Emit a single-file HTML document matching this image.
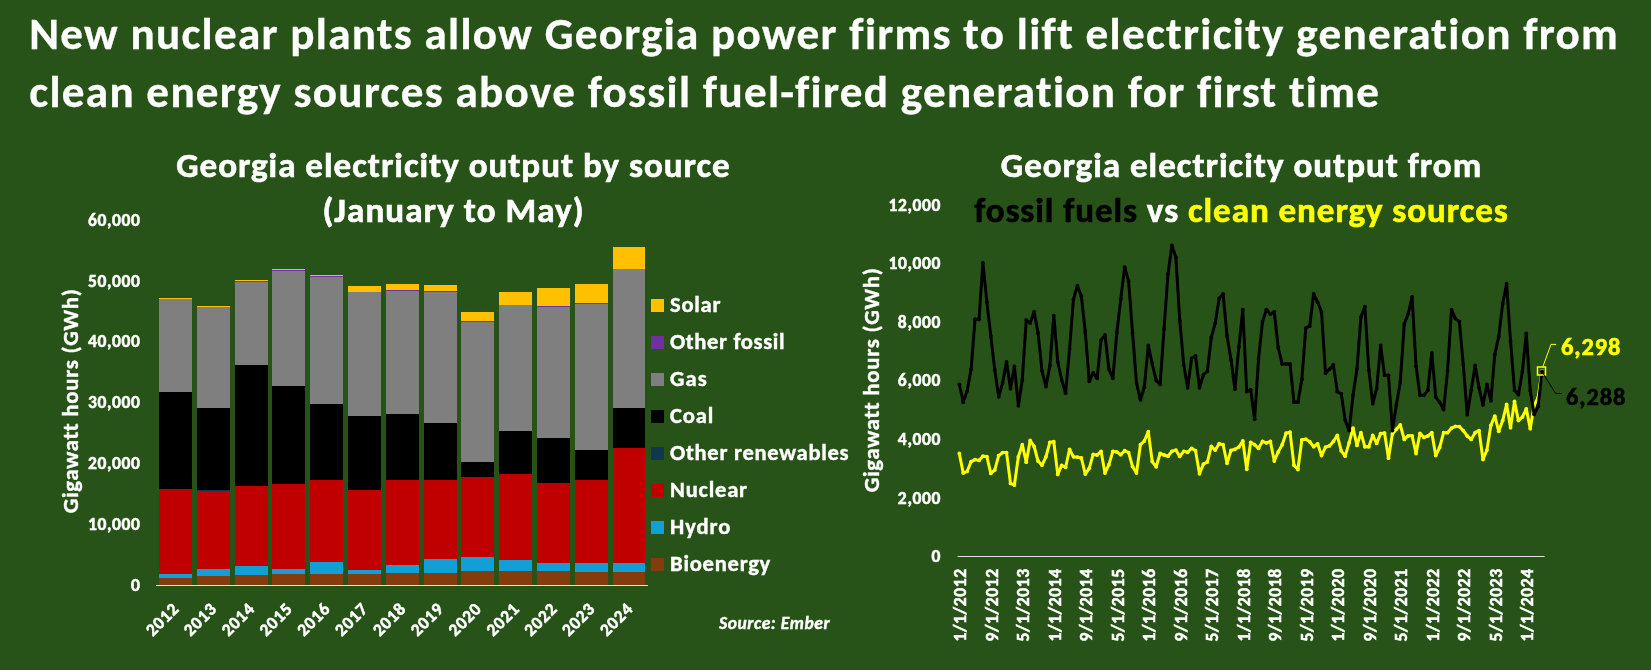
<!DOCTYPE html>
<html><head><meta charset="utf-8"><style>
html,body{margin:0;padding:0;background:#285318;}
body{width:1651px;height:670px;overflow:hidden;position:relative;}
svg{position:absolute;left:0;top:0;will-change:transform;}
text{font-family:Carlito, 'Liberation Sans', sans-serif;font-weight:bold;fill:#fff;font-variant-ligatures:none;font-feature-settings:"liga" 0,"clig" 0,"dlig" 0;}
.t14{font-size:17.55px;stroke:#fff;stroke-width:0.5px;paint-order:stroke;}
.t18{font-size:22.56px;stroke:#fff;stroke-width:0.4px;paint-order:stroke;}
.t28{font-size:35.09px;stroke:#fff;stroke-width:0.6px;paint-order:stroke;}
.t36{font-size:45.12px;stroke:#fff;stroke-width:0.3px;paint-order:stroke;}
.src{font-size:17.55px;font-style:italic;stroke:#fff;stroke-width:0.4px;paint-order:stroke;}
</style></head><body>
<svg width="1651" height="670" viewBox="0 0 1651 670">
<rect width="1651" height="670" fill="#285318"/>
<text textLength="1588.53" lengthAdjust="spacing" x="29.3" y="49" class="t36" style="letter-spacing:0.08px">New nuclear plants allow Georgia power firms to lift electricity generation from</text>
<text textLength="1349.73" lengthAdjust="spacing" x="29.3" y="107.2" class="t36" style="letter-spacing:0.12px">clean energy sources above fossil fuel-fired generation for first time</text>
<text textLength="553.39" lengthAdjust="spacing" x="453" y="177" text-anchor="middle" class="t28">Georgia electricity output by source</text>
<text textLength="261.23" lengthAdjust="spacing" x="453" y="222" text-anchor="middle" class="t28">(January to May)</text>
<text textLength="480.36" lengthAdjust="spacing" x="1241" y="177" text-anchor="middle" class="t28">Georgia electricity output from</text>
<text textLength="533.69" lengthAdjust="spacing" x="1241" y="222" text-anchor="middle" class="t28"><tspan fill="#000" stroke="#000">fossil fuels</tspan> vs <tspan fill="#FFFF00" stroke="#FFFF00">clean energy sources</tspan></text>
<text textLength="224.28" lengthAdjust="spacing" x="0" y="0" transform="translate(78.2 401.2) rotate(-90)" text-anchor="middle" class="t18" style="font-size:22.84px">Gigawatt hours (GWh)</text>
<text textLength="224.28" lengthAdjust="spacing" x="0" y="0" transform="translate(878.8 380.2) rotate(-90)" text-anchor="middle" class="t18" style="font-size:22.84px">Gigawatt hours (GWh)</text>
<text textLength="9.47" lengthAdjust="spacing" x="140" y="590.7" text-anchor="end" class="t14">0</text><text textLength="52.09" lengthAdjust="spacing" x="140" y="529.9" text-anchor="end" class="t14">10,000</text><text textLength="52.09" lengthAdjust="spacing" x="140" y="469.1" text-anchor="end" class="t14">20,000</text><text textLength="52.09" lengthAdjust="spacing" x="140" y="408.2" text-anchor="end" class="t14">30,000</text><text textLength="52.09" lengthAdjust="spacing" x="140" y="347.4" text-anchor="end" class="t14">40,000</text><text textLength="52.09" lengthAdjust="spacing" x="140" y="286.6" text-anchor="end" class="t14">50,000</text><text textLength="52.09" lengthAdjust="spacing" x="140" y="225.8" text-anchor="end" class="t14">60,000</text>
<rect x="159" y="578" width="33" height="7" fill="#843C0C" shape-rendering="crispEdges"/><rect x="159" y="574" width="33" height="4" fill="#129FD6" shape-rendering="crispEdges"/><rect x="159" y="489" width="33" height="85" fill="#C00000" shape-rendering="crispEdges"/><rect x="159" y="392" width="33" height="97" fill="#000000" shape-rendering="crispEdges"/><rect x="159" y="299" width="33" height="93" fill="#7F7F7F" shape-rendering="crispEdges"/><rect x="159" y="298" width="33" height="1" fill="#FFC000" shape-rendering="crispEdges"/><rect x="197" y="576" width="33" height="9" fill="#843C0C" shape-rendering="crispEdges"/><rect x="197" y="569" width="33" height="7" fill="#129FD6" shape-rendering="crispEdges"/><rect x="197" y="491" width="33" height="78" fill="#C00000" shape-rendering="crispEdges"/><rect x="197" y="490" width="33" height="1" fill="#0F3752" shape-rendering="crispEdges"/><rect x="197" y="408" width="33" height="82" fill="#000000" shape-rendering="crispEdges"/><rect x="197" y="307" width="33" height="101" fill="#7F7F7F" shape-rendering="crispEdges"/><rect x="197" y="306" width="33" height="1" fill="#FFC000" shape-rendering="crispEdges"/><rect x="235" y="575" width="33" height="10" fill="#843C0C" shape-rendering="crispEdges"/><rect x="235" y="566" width="33" height="9" fill="#129FD6" shape-rendering="crispEdges"/><rect x="235" y="486" width="33" height="80" fill="#C00000" shape-rendering="crispEdges"/><rect x="235" y="365" width="33" height="121" fill="#000000" shape-rendering="crispEdges"/><rect x="235" y="282" width="33" height="83" fill="#7F7F7F" shape-rendering="crispEdges"/><rect x="235" y="281" width="33" height="1" fill="#7030A0" shape-rendering="crispEdges"/><rect x="235" y="280" width="33" height="1" fill="#FFC000" shape-rendering="crispEdges"/><rect x="272" y="574" width="33" height="11" fill="#843C0C" shape-rendering="crispEdges"/><rect x="272" y="569" width="33" height="5" fill="#129FD6" shape-rendering="crispEdges"/><rect x="272" y="484" width="33" height="85" fill="#C00000" shape-rendering="crispEdges"/><rect x="272" y="386" width="33" height="98" fill="#000000" shape-rendering="crispEdges"/><rect x="272" y="271" width="33" height="115" fill="#7F7F7F" shape-rendering="crispEdges"/><rect x="272" y="270" width="33" height="1" fill="#7030A0" shape-rendering="crispEdges"/><rect x="272" y="269" width="33" height="1" fill="#FFC000" shape-rendering="crispEdges"/><rect x="310" y="574" width="33" height="11" fill="#843C0C" shape-rendering="crispEdges"/><rect x="310" y="562" width="33" height="12" fill="#129FD6" shape-rendering="crispEdges"/><rect x="310" y="480" width="33" height="82" fill="#C00000" shape-rendering="crispEdges"/><rect x="310" y="404" width="33" height="76" fill="#000000" shape-rendering="crispEdges"/><rect x="310" y="277" width="33" height="127" fill="#7F7F7F" shape-rendering="crispEdges"/><rect x="310" y="276" width="33" height="1" fill="#7030A0" shape-rendering="crispEdges"/><rect x="310" y="275" width="33" height="1" fill="#FFC000" shape-rendering="crispEdges"/><rect x="348" y="574" width="33" height="11" fill="#843C0C" shape-rendering="crispEdges"/><rect x="348" y="570" width="33" height="4" fill="#129FD6" shape-rendering="crispEdges"/><rect x="348" y="490" width="33" height="80" fill="#C00000" shape-rendering="crispEdges"/><rect x="348" y="416" width="33" height="74" fill="#000000" shape-rendering="crispEdges"/><rect x="348" y="292" width="33" height="124" fill="#7F7F7F" shape-rendering="crispEdges"/><rect x="348" y="286" width="33" height="6" fill="#FFC000" shape-rendering="crispEdges"/><rect x="386" y="573" width="33" height="12" fill="#843C0C" shape-rendering="crispEdges"/><rect x="386" y="565" width="33" height="8" fill="#129FD6" shape-rendering="crispEdges"/><rect x="386" y="480" width="33" height="85" fill="#C00000" shape-rendering="crispEdges"/><rect x="386" y="414" width="33" height="66" fill="#000000" shape-rendering="crispEdges"/><rect x="386" y="291" width="33" height="123" fill="#7F7F7F" shape-rendering="crispEdges"/><rect x="386" y="290" width="33" height="1" fill="#7030A0" shape-rendering="crispEdges"/><rect x="386" y="284" width="33" height="6" fill="#FFC000" shape-rendering="crispEdges"/><rect x="424" y="573" width="33" height="12" fill="#843C0C" shape-rendering="crispEdges"/><rect x="424" y="559" width="33" height="14" fill="#129FD6" shape-rendering="crispEdges"/><rect x="424" y="480" width="33" height="79" fill="#C00000" shape-rendering="crispEdges"/><rect x="424" y="423" width="33" height="57" fill="#000000" shape-rendering="crispEdges"/><rect x="424" y="292" width="33" height="131" fill="#7F7F7F" shape-rendering="crispEdges"/><rect x="424" y="291" width="33" height="1" fill="#7030A0" shape-rendering="crispEdges"/><rect x="424" y="285" width="33" height="6" fill="#FFC000" shape-rendering="crispEdges"/><rect x="461" y="571" width="33" height="14" fill="#843C0C" shape-rendering="crispEdges"/><rect x="461" y="557" width="33" height="14" fill="#129FD6" shape-rendering="crispEdges"/><rect x="461" y="477" width="33" height="80" fill="#C00000" shape-rendering="crispEdges"/><rect x="461" y="462" width="33" height="15" fill="#000000" shape-rendering="crispEdges"/><rect x="461" y="322" width="33" height="140" fill="#7F7F7F" shape-rendering="crispEdges"/><rect x="461" y="321" width="33" height="1" fill="#7030A0" shape-rendering="crispEdges"/><rect x="461" y="312" width="33" height="9" fill="#FFC000" shape-rendering="crispEdges"/><rect x="499" y="571" width="33" height="14" fill="#843C0C" shape-rendering="crispEdges"/><rect x="499" y="560" width="33" height="11" fill="#129FD6" shape-rendering="crispEdges"/><rect x="499" y="474" width="33" height="86" fill="#C00000" shape-rendering="crispEdges"/><rect x="499" y="431" width="33" height="43" fill="#000000" shape-rendering="crispEdges"/><rect x="499" y="305" width="33" height="126" fill="#7F7F7F" shape-rendering="crispEdges"/><rect x="499" y="292" width="33" height="13" fill="#FFC000" shape-rendering="crispEdges"/><rect x="537" y="571" width="33" height="14" fill="#843C0C" shape-rendering="crispEdges"/><rect x="537" y="563" width="33" height="8" fill="#129FD6" shape-rendering="crispEdges"/><rect x="537" y="483" width="33" height="80" fill="#C00000" shape-rendering="crispEdges"/><rect x="537" y="438" width="33" height="45" fill="#000000" shape-rendering="crispEdges"/><rect x="537" y="307" width="33" height="131" fill="#7F7F7F" shape-rendering="crispEdges"/><rect x="537" y="306" width="33" height="1" fill="#7030A0" shape-rendering="crispEdges"/><rect x="537" y="288" width="33" height="18" fill="#FFC000" shape-rendering="crispEdges"/><rect x="575" y="572" width="33" height="13" fill="#843C0C" shape-rendering="crispEdges"/><rect x="575" y="563" width="33" height="9" fill="#129FD6" shape-rendering="crispEdges"/><rect x="575" y="480" width="33" height="83" fill="#C00000" shape-rendering="crispEdges"/><rect x="575" y="450" width="33" height="30" fill="#000000" shape-rendering="crispEdges"/><rect x="575" y="304" width="33" height="146" fill="#7F7F7F" shape-rendering="crispEdges"/><rect x="575" y="303" width="33" height="1" fill="#7030A0" shape-rendering="crispEdges"/><rect x="575" y="284" width="33" height="19" fill="#FFC000" shape-rendering="crispEdges"/><rect x="613" y="572" width="32" height="13" fill="#843C0C" shape-rendering="crispEdges"/><rect x="613" y="563" width="32" height="9" fill="#129FD6" shape-rendering="crispEdges"/><rect x="613" y="448" width="32" height="115" fill="#C00000" shape-rendering="crispEdges"/><rect x="613" y="408" width="32" height="40" fill="#000000" shape-rendering="crispEdges"/><rect x="613" y="269" width="32" height="139" fill="#7F7F7F" shape-rendering="crispEdges"/><rect x="613" y="247" width="32" height="22" fill="#FFC000" shape-rendering="crispEdges"/>
<rect x="156" y="585" width="492" height="1" fill="#E0E0E0"/>
<text textLength="37.83" lengthAdjust="spacing" x="179.5" y="610.3" transform="rotate(-45 179.5 610.3)" text-anchor="end" class="t14">2012</text><text textLength="37.83" lengthAdjust="spacing" x="217.3" y="610.3" transform="rotate(-45 217.3 610.3)" text-anchor="end" class="t14">2013</text><text textLength="37.83" lengthAdjust="spacing" x="255.2" y="610.3" transform="rotate(-45 255.2 610.3)" text-anchor="end" class="t14">2014</text><text textLength="37.83" lengthAdjust="spacing" x="293.0" y="610.3" transform="rotate(-45 293.0 610.3)" text-anchor="end" class="t14">2015</text><text textLength="37.83" lengthAdjust="spacing" x="330.8" y="610.3" transform="rotate(-45 330.8 610.3)" text-anchor="end" class="t14">2016</text><text textLength="37.83" lengthAdjust="spacing" x="368.6" y="610.3" transform="rotate(-45 368.6 610.3)" text-anchor="end" class="t14">2017</text><text textLength="37.83" lengthAdjust="spacing" x="406.5" y="610.3" transform="rotate(-45 406.5 610.3)" text-anchor="end" class="t14">2018</text><text textLength="37.83" lengthAdjust="spacing" x="444.3" y="610.3" transform="rotate(-45 444.3 610.3)" text-anchor="end" class="t14">2019</text><text textLength="37.83" lengthAdjust="spacing" x="482.1" y="610.3" transform="rotate(-45 482.1 610.3)" text-anchor="end" class="t14">2020</text><text textLength="37.83" lengthAdjust="spacing" x="520.0" y="610.3" transform="rotate(-45 520.0 610.3)" text-anchor="end" class="t14">2021</text><text textLength="37.83" lengthAdjust="spacing" x="557.8" y="610.3" transform="rotate(-45 557.8 610.3)" text-anchor="end" class="t14">2022</text><text textLength="37.83" lengthAdjust="spacing" x="595.6" y="610.3" transform="rotate(-45 595.6 610.3)" text-anchor="end" class="t14">2023</text><text textLength="37.83" lengthAdjust="spacing" x="633.5" y="610.3" transform="rotate(-45 633.5 610.3)" text-anchor="end" class="t14">2024</text>
<rect x="651" y="299" width="13" height="13" fill="#FFC000"/><text textLength="50.53" lengthAdjust="spacing" x="670" y="312" class="t18">Solar</text><rect x="651" y="336" width="13" height="13" fill="#7030A0"/><text textLength="114.55" lengthAdjust="spacing" x="670" y="349" class="t18">Other fossil</text><rect x="651" y="373" width="13" height="13" fill="#7F7F7F"/><text textLength="36.72" lengthAdjust="spacing" x="670" y="386" class="t18">Gas</text><rect x="651" y="410" width="13" height="13" fill="#000000"/><text textLength="43.36" lengthAdjust="spacing" x="670" y="423" class="t18">Coal</text><rect x="651" y="447" width="13" height="13" fill="#0F3752"/><text textLength="178.56" lengthAdjust="spacing" x="670" y="460" class="t18">Other renewables</text><rect x="651" y="484" width="13" height="13" fill="#C00000"/><text textLength="77.09" lengthAdjust="spacing" x="670" y="497" class="t18">Nuclear</text><rect x="651" y="521" width="13" height="13" fill="#129FD6"/><text textLength="60.27" lengthAdjust="spacing" x="670" y="534" class="t18">Hydro</text><rect x="651" y="558" width="13" height="13" fill="#843C0C"/><text textLength="100.30" lengthAdjust="spacing" x="670" y="571" class="t18">Bioenergy</text>
<text textLength="110.59" lengthAdjust="spacing" x="719" y="629" class="src">Source: Ember</text>
<text textLength="9.47" lengthAdjust="spacing" x="940.5" y="562.0" text-anchor="end" class="t14">0</text><text textLength="42.64" lengthAdjust="spacing" x="940.5" y="503.5" text-anchor="end" class="t14">2,000</text><text textLength="42.64" lengthAdjust="spacing" x="940.5" y="444.9" text-anchor="end" class="t14">4,000</text><text textLength="42.64" lengthAdjust="spacing" x="940.5" y="386.4" text-anchor="end" class="t14">6,000</text><text textLength="42.64" lengthAdjust="spacing" x="940.5" y="327.9" text-anchor="end" class="t14">8,000</text><text textLength="52.09" lengthAdjust="spacing" x="940.5" y="269.4" text-anchor="end" class="t14">10,000</text><text textLength="52.09" lengthAdjust="spacing" x="940.5" y="210.8" text-anchor="end" class="t14">12,000</text>
<rect x="957.6" y="556" width="587" height="1" fill="#E0E0E0"/>
<text textLength="72.78" lengthAdjust="spacing" x="966.5" y="568.8" transform="rotate(-90 966.5 568.8)" text-anchor="end" class="t14">1/1/2012</text><text textLength="72.78" lengthAdjust="spacing" x="998.0" y="568.8" transform="rotate(-90 998.0 568.8)" text-anchor="end" class="t14">9/1/2012</text><text textLength="72.78" lengthAdjust="spacing" x="1029.5" y="568.8" transform="rotate(-90 1029.5 568.8)" text-anchor="end" class="t14">5/1/2013</text><text textLength="72.78" lengthAdjust="spacing" x="1061.0" y="568.8" transform="rotate(-90 1061.0 568.8)" text-anchor="end" class="t14">1/1/2014</text><text textLength="72.78" lengthAdjust="spacing" x="1092.5" y="568.8" transform="rotate(-90 1092.5 568.8)" text-anchor="end" class="t14">9/1/2014</text><text textLength="72.78" lengthAdjust="spacing" x="1124.0" y="568.8" transform="rotate(-90 1124.0 568.8)" text-anchor="end" class="t14">5/1/2015</text><text textLength="72.78" lengthAdjust="spacing" x="1155.5" y="568.8" transform="rotate(-90 1155.5 568.8)" text-anchor="end" class="t14">1/1/2016</text><text textLength="72.78" lengthAdjust="spacing" x="1187.0" y="568.8" transform="rotate(-90 1187.0 568.8)" text-anchor="end" class="t14">9/1/2016</text><text textLength="72.78" lengthAdjust="spacing" x="1218.5" y="568.8" transform="rotate(-90 1218.5 568.8)" text-anchor="end" class="t14">5/1/2017</text><text textLength="72.78" lengthAdjust="spacing" x="1250.0" y="568.8" transform="rotate(-90 1250.0 568.8)" text-anchor="end" class="t14">1/1/2018</text><text textLength="72.78" lengthAdjust="spacing" x="1281.5" y="568.8" transform="rotate(-90 1281.5 568.8)" text-anchor="end" class="t14">9/1/2018</text><text textLength="72.78" lengthAdjust="spacing" x="1313.0" y="568.8" transform="rotate(-90 1313.0 568.8)" text-anchor="end" class="t14">5/1/2019</text><text textLength="72.78" lengthAdjust="spacing" x="1344.5" y="568.8" transform="rotate(-90 1344.5 568.8)" text-anchor="end" class="t14">1/1/2020</text><text textLength="72.78" lengthAdjust="spacing" x="1376.0" y="568.8" transform="rotate(-90 1376.0 568.8)" text-anchor="end" class="t14">9/1/2020</text><text textLength="72.78" lengthAdjust="spacing" x="1407.5" y="568.8" transform="rotate(-90 1407.5 568.8)" text-anchor="end" class="t14">5/1/2021</text><text textLength="72.78" lengthAdjust="spacing" x="1439.0" y="568.8" transform="rotate(-90 1439.0 568.8)" text-anchor="end" class="t14">1/1/2022</text><text textLength="72.78" lengthAdjust="spacing" x="1470.5" y="568.8" transform="rotate(-90 1470.5 568.8)" text-anchor="end" class="t14">9/1/2022</text><text textLength="72.78" lengthAdjust="spacing" x="1502.0" y="568.8" transform="rotate(-90 1502.0 568.8)" text-anchor="end" class="t14">5/1/2023</text><text textLength="72.78" lengthAdjust="spacing" x="1533.5" y="568.8" transform="rotate(-90 1533.5 568.8)" text-anchor="end" class="t14">1/1/2024</text>
<polyline points="959.30,453.5 963.24,473.1 967.17,471.3 971.11,461.6 975.05,459.6 978.99,460.4 982.92,456.2 986.86,456.6 990.80,473.4 994.74,470.1 998.67,455.6 1002.61,452.6 1006.55,452.6 1010.49,483.4 1014.42,485.0 1018.36,456.8 1022.30,444.7 1026.24,462.2 1030.17,440.4 1034.11,446.5 1038.05,461.0 1041.99,465.3 1045.92,456.8 1049.86,442.3 1053.80,441.7 1057.74,474.4 1061.67,465.3 1065.61,467.3 1069.55,449.5 1073.49,456.8 1077.42,457.2 1081.36,458.0 1085.30,474.1 1089.24,468.3 1093.17,454.4 1097.11,455.0 1101.05,451.3 1104.99,473.1 1108.92,464.7 1112.86,451.3 1116.80,451.9 1120.74,454.7 1124.67,450.7 1128.61,452.6 1132.55,466.5 1136.49,473.1 1140.42,444.7 1144.36,441.0 1148.30,431.7 1152.24,461.6 1156.17,466.8 1160.11,453.5 1164.05,455.0 1167.99,456.2 1171.92,451.3 1175.86,450.1 1179.80,456.4 1183.74,451.3 1187.67,452.3 1191.61,448.3 1195.55,450.7 1199.49,473.8 1203.42,464.1 1207.36,462.0 1211.30,446.3 1215.24,450.1 1219.17,443.7 1223.11,444.7 1227.05,463.2 1230.99,450.5 1234.92,449.3 1238.86,447.1 1242.80,441.0 1246.74,469.3 1250.67,442.3 1254.61,444.7 1258.55,448.3 1262.49,441.4 1266.42,442.9 1270.36,441.4 1274.30,461.0 1278.24,451.9 1282.17,444.7 1286.11,433.2 1290.05,432.2 1293.99,465.3 1297.92,469.5 1301.86,439.8 1305.80,439.2 1309.74,441.7 1313.67,446.7 1317.61,443.8 1321.55,455.6 1325.49,447.1 1329.42,445.9 1333.36,441.4 1337.30,435.4 1341.24,450.8 1345.17,456.2 1349.11,442.8 1353.05,428.2 1356.99,445.4 1360.92,432.7 1364.86,446.8 1368.80,446.8 1372.74,435.4 1376.67,443.4 1380.61,433.6 1384.55,433.1 1388.49,458.2 1392.42,434.0 1396.36,429.3 1400.30,425.0 1404.24,439.4 1408.17,435.8 1412.11,435.8 1416.05,453.5 1419.99,433.4 1423.92,437.4 1427.86,436.0 1431.80,432.7 1435.74,455.5 1439.67,447.5 1443.61,432.7 1447.55,432.7 1451.49,428.2 1455.42,426.4 1459.36,426.6 1463.30,430.7 1467.24,436.0 1471.17,439.4 1475.11,432.7 1479.05,430.7 1482.99,459.5 1486.92,450.1 1490.86,425.3 1494.80,416.2 1498.74,431.3 1502.67,420.6 1506.61,404.5 1510.55,427.7 1514.49,401.4 1518.42,420.6 1522.36,417.2 1526.30,408.9 1530.24,428.7 1534.17,405.1 1538.11,397.7 1542.05,371.0" fill="none" stroke="#FFFF00" stroke-width="3" stroke-linejoin="round"/>
<circle cx="959.30" cy="453.5" r="1.9" fill="#FFFF00"/><circle cx="963.24" cy="473.1" r="1.9" fill="#FFFF00"/><circle cx="967.17" cy="471.3" r="1.9" fill="#FFFF00"/><circle cx="971.11" cy="461.6" r="1.9" fill="#FFFF00"/><circle cx="975.05" cy="459.6" r="1.9" fill="#FFFF00"/><circle cx="978.99" cy="460.4" r="1.9" fill="#FFFF00"/><circle cx="982.92" cy="456.2" r="1.9" fill="#FFFF00"/><circle cx="986.86" cy="456.6" r="1.9" fill="#FFFF00"/><circle cx="990.80" cy="473.4" r="1.9" fill="#FFFF00"/><circle cx="994.74" cy="470.1" r="1.9" fill="#FFFF00"/><circle cx="998.67" cy="455.6" r="1.9" fill="#FFFF00"/><circle cx="1002.61" cy="452.6" r="1.9" fill="#FFFF00"/><circle cx="1006.55" cy="452.6" r="1.9" fill="#FFFF00"/><circle cx="1010.49" cy="483.4" r="1.9" fill="#FFFF00"/><circle cx="1014.42" cy="485.0" r="1.9" fill="#FFFF00"/><circle cx="1018.36" cy="456.8" r="1.9" fill="#FFFF00"/><circle cx="1022.30" cy="444.7" r="1.9" fill="#FFFF00"/><circle cx="1026.24" cy="462.2" r="1.9" fill="#FFFF00"/><circle cx="1030.17" cy="440.4" r="1.9" fill="#FFFF00"/><circle cx="1034.11" cy="446.5" r="1.9" fill="#FFFF00"/><circle cx="1038.05" cy="461.0" r="1.9" fill="#FFFF00"/><circle cx="1041.99" cy="465.3" r="1.9" fill="#FFFF00"/><circle cx="1045.92" cy="456.8" r="1.9" fill="#FFFF00"/><circle cx="1049.86" cy="442.3" r="1.9" fill="#FFFF00"/><circle cx="1053.80" cy="441.7" r="1.9" fill="#FFFF00"/><circle cx="1057.74" cy="474.4" r="1.9" fill="#FFFF00"/><circle cx="1061.67" cy="465.3" r="1.9" fill="#FFFF00"/><circle cx="1065.61" cy="467.3" r="1.9" fill="#FFFF00"/><circle cx="1069.55" cy="449.5" r="1.9" fill="#FFFF00"/><circle cx="1073.49" cy="456.8" r="1.9" fill="#FFFF00"/><circle cx="1077.42" cy="457.2" r="1.9" fill="#FFFF00"/><circle cx="1081.36" cy="458.0" r="1.9" fill="#FFFF00"/><circle cx="1085.30" cy="474.1" r="1.9" fill="#FFFF00"/><circle cx="1089.24" cy="468.3" r="1.9" fill="#FFFF00"/><circle cx="1093.17" cy="454.4" r="1.9" fill="#FFFF00"/><circle cx="1097.11" cy="455.0" r="1.9" fill="#FFFF00"/><circle cx="1101.05" cy="451.3" r="1.9" fill="#FFFF00"/><circle cx="1104.99" cy="473.1" r="1.9" fill="#FFFF00"/><circle cx="1108.92" cy="464.7" r="1.9" fill="#FFFF00"/><circle cx="1112.86" cy="451.3" r="1.9" fill="#FFFF00"/><circle cx="1116.80" cy="451.9" r="1.9" fill="#FFFF00"/><circle cx="1120.74" cy="454.7" r="1.9" fill="#FFFF00"/><circle cx="1124.67" cy="450.7" r="1.9" fill="#FFFF00"/><circle cx="1128.61" cy="452.6" r="1.9" fill="#FFFF00"/><circle cx="1132.55" cy="466.5" r="1.9" fill="#FFFF00"/><circle cx="1136.49" cy="473.1" r="1.9" fill="#FFFF00"/><circle cx="1140.42" cy="444.7" r="1.9" fill="#FFFF00"/><circle cx="1144.36" cy="441.0" r="1.9" fill="#FFFF00"/><circle cx="1148.30" cy="431.7" r="1.9" fill="#FFFF00"/><circle cx="1152.24" cy="461.6" r="1.9" fill="#FFFF00"/><circle cx="1156.17" cy="466.8" r="1.9" fill="#FFFF00"/><circle cx="1160.11" cy="453.5" r="1.9" fill="#FFFF00"/><circle cx="1164.05" cy="455.0" r="1.9" fill="#FFFF00"/><circle cx="1167.99" cy="456.2" r="1.9" fill="#FFFF00"/><circle cx="1171.92" cy="451.3" r="1.9" fill="#FFFF00"/><circle cx="1175.86" cy="450.1" r="1.9" fill="#FFFF00"/><circle cx="1179.80" cy="456.4" r="1.9" fill="#FFFF00"/><circle cx="1183.74" cy="451.3" r="1.9" fill="#FFFF00"/><circle cx="1187.67" cy="452.3" r="1.9" fill="#FFFF00"/><circle cx="1191.61" cy="448.3" r="1.9" fill="#FFFF00"/><circle cx="1195.55" cy="450.7" r="1.9" fill="#FFFF00"/><circle cx="1199.49" cy="473.8" r="1.9" fill="#FFFF00"/><circle cx="1203.42" cy="464.1" r="1.9" fill="#FFFF00"/><circle cx="1207.36" cy="462.0" r="1.9" fill="#FFFF00"/><circle cx="1211.30" cy="446.3" r="1.9" fill="#FFFF00"/><circle cx="1215.24" cy="450.1" r="1.9" fill="#FFFF00"/><circle cx="1219.17" cy="443.7" r="1.9" fill="#FFFF00"/><circle cx="1223.11" cy="444.7" r="1.9" fill="#FFFF00"/><circle cx="1227.05" cy="463.2" r="1.9" fill="#FFFF00"/><circle cx="1230.99" cy="450.5" r="1.9" fill="#FFFF00"/><circle cx="1234.92" cy="449.3" r="1.9" fill="#FFFF00"/><circle cx="1238.86" cy="447.1" r="1.9" fill="#FFFF00"/><circle cx="1242.80" cy="441.0" r="1.9" fill="#FFFF00"/><circle cx="1246.74" cy="469.3" r="1.9" fill="#FFFF00"/><circle cx="1250.67" cy="442.3" r="1.9" fill="#FFFF00"/><circle cx="1254.61" cy="444.7" r="1.9" fill="#FFFF00"/><circle cx="1258.55" cy="448.3" r="1.9" fill="#FFFF00"/><circle cx="1262.49" cy="441.4" r="1.9" fill="#FFFF00"/><circle cx="1266.42" cy="442.9" r="1.9" fill="#FFFF00"/><circle cx="1270.36" cy="441.4" r="1.9" fill="#FFFF00"/><circle cx="1274.30" cy="461.0" r="1.9" fill="#FFFF00"/><circle cx="1278.24" cy="451.9" r="1.9" fill="#FFFF00"/><circle cx="1282.17" cy="444.7" r="1.9" fill="#FFFF00"/><circle cx="1286.11" cy="433.2" r="1.9" fill="#FFFF00"/><circle cx="1290.05" cy="432.2" r="1.9" fill="#FFFF00"/><circle cx="1293.99" cy="465.3" r="1.9" fill="#FFFF00"/><circle cx="1297.92" cy="469.5" r="1.9" fill="#FFFF00"/><circle cx="1301.86" cy="439.8" r="1.9" fill="#FFFF00"/><circle cx="1305.80" cy="439.2" r="1.9" fill="#FFFF00"/><circle cx="1309.74" cy="441.7" r="1.9" fill="#FFFF00"/><circle cx="1313.67" cy="446.7" r="1.9" fill="#FFFF00"/><circle cx="1317.61" cy="443.8" r="1.9" fill="#FFFF00"/><circle cx="1321.55" cy="455.6" r="1.9" fill="#FFFF00"/><circle cx="1325.49" cy="447.1" r="1.9" fill="#FFFF00"/><circle cx="1329.42" cy="445.9" r="1.9" fill="#FFFF00"/><circle cx="1333.36" cy="441.4" r="1.9" fill="#FFFF00"/><circle cx="1337.30" cy="435.4" r="1.9" fill="#FFFF00"/><circle cx="1341.24" cy="450.8" r="1.9" fill="#FFFF00"/><circle cx="1345.17" cy="456.2" r="1.9" fill="#FFFF00"/><circle cx="1349.11" cy="442.8" r="1.9" fill="#FFFF00"/><circle cx="1353.05" cy="428.2" r="1.9" fill="#FFFF00"/><circle cx="1356.99" cy="445.4" r="1.9" fill="#FFFF00"/><circle cx="1360.92" cy="432.7" r="1.9" fill="#FFFF00"/><circle cx="1364.86" cy="446.8" r="1.9" fill="#FFFF00"/><circle cx="1368.80" cy="446.8" r="1.9" fill="#FFFF00"/><circle cx="1372.74" cy="435.4" r="1.9" fill="#FFFF00"/><circle cx="1376.67" cy="443.4" r="1.9" fill="#FFFF00"/><circle cx="1380.61" cy="433.6" r="1.9" fill="#FFFF00"/><circle cx="1384.55" cy="433.1" r="1.9" fill="#FFFF00"/><circle cx="1388.49" cy="458.2" r="1.9" fill="#FFFF00"/><circle cx="1392.42" cy="434.0" r="1.9" fill="#FFFF00"/><circle cx="1396.36" cy="429.3" r="1.9" fill="#FFFF00"/><circle cx="1400.30" cy="425.0" r="1.9" fill="#FFFF00"/><circle cx="1404.24" cy="439.4" r="1.9" fill="#FFFF00"/><circle cx="1408.17" cy="435.8" r="1.9" fill="#FFFF00"/><circle cx="1412.11" cy="435.8" r="1.9" fill="#FFFF00"/><circle cx="1416.05" cy="453.5" r="1.9" fill="#FFFF00"/><circle cx="1419.99" cy="433.4" r="1.9" fill="#FFFF00"/><circle cx="1423.92" cy="437.4" r="1.9" fill="#FFFF00"/><circle cx="1427.86" cy="436.0" r="1.9" fill="#FFFF00"/><circle cx="1431.80" cy="432.7" r="1.9" fill="#FFFF00"/><circle cx="1435.74" cy="455.5" r="1.9" fill="#FFFF00"/><circle cx="1439.67" cy="447.5" r="1.9" fill="#FFFF00"/><circle cx="1443.61" cy="432.7" r="1.9" fill="#FFFF00"/><circle cx="1447.55" cy="432.7" r="1.9" fill="#FFFF00"/><circle cx="1451.49" cy="428.2" r="1.9" fill="#FFFF00"/><circle cx="1455.42" cy="426.4" r="1.9" fill="#FFFF00"/><circle cx="1459.36" cy="426.6" r="1.9" fill="#FFFF00"/><circle cx="1463.30" cy="430.7" r="1.9" fill="#FFFF00"/><circle cx="1467.24" cy="436.0" r="1.9" fill="#FFFF00"/><circle cx="1471.17" cy="439.4" r="1.9" fill="#FFFF00"/><circle cx="1475.11" cy="432.7" r="1.9" fill="#FFFF00"/><circle cx="1479.05" cy="430.7" r="1.9" fill="#FFFF00"/><circle cx="1482.99" cy="459.5" r="1.9" fill="#FFFF00"/><circle cx="1486.92" cy="450.1" r="1.9" fill="#FFFF00"/><circle cx="1490.86" cy="425.3" r="1.9" fill="#FFFF00"/><circle cx="1494.80" cy="416.2" r="1.9" fill="#FFFF00"/><circle cx="1498.74" cy="431.3" r="1.9" fill="#FFFF00"/><circle cx="1502.67" cy="420.6" r="1.9" fill="#FFFF00"/><circle cx="1506.61" cy="404.5" r="1.9" fill="#FFFF00"/><circle cx="1510.55" cy="427.7" r="1.9" fill="#FFFF00"/><circle cx="1514.49" cy="401.4" r="1.9" fill="#FFFF00"/><circle cx="1518.42" cy="420.6" r="1.9" fill="#FFFF00"/><circle cx="1522.36" cy="417.2" r="1.9" fill="#FFFF00"/><circle cx="1526.30" cy="408.9" r="1.9" fill="#FFFF00"/><circle cx="1530.24" cy="428.7" r="1.9" fill="#FFFF00"/><circle cx="1534.17" cy="405.1" r="1.9" fill="#FFFF00"/><circle cx="1538.11" cy="397.7" r="1.9" fill="#FFFF00"/><circle cx="1542.05" cy="371.0" r="1.9" fill="#FFFF00"/>
<polyline points="959.30,384.3 963.24,402.2 967.17,390.8 971.11,369.3 975.05,319.2 978.99,319.5 982.92,262.8 986.86,302.2 990.80,335.9 994.74,369.9 998.67,396.8 1002.61,382.8 1006.55,361.9 1010.49,388.7 1014.42,366.3 1018.36,405.7 1022.30,379.8 1026.24,320.1 1030.17,323.1 1034.11,312.0 1038.05,332.9 1041.99,370.8 1045.92,386.6 1049.86,365.7 1053.80,315.6 1057.74,361.9 1061.67,379.8 1065.61,393.2 1069.55,349.0 1073.49,299.2 1077.42,285.7 1081.36,296.2 1085.30,332.0 1089.24,381.3 1093.17,372.9 1097.11,378.3 1101.05,340.1 1104.99,335.0 1108.92,369.3 1112.86,378.3 1116.80,332.9 1120.74,299.2 1124.67,267.2 1128.61,281.3 1132.55,332.9 1136.49,382.8 1140.42,399.8 1144.36,387.2 1148.30,345.4 1152.24,364.0 1156.17,380.4 1160.11,384.3 1164.05,329.0 1167.99,273.8 1171.92,245.4 1175.86,257.4 1179.80,321.0 1183.74,364.9 1187.67,387.8 1191.61,358.3 1195.55,355.9 1199.49,387.8 1203.42,374.7 1207.36,371.4 1211.30,337.4 1215.24,323.1 1219.17,298.3 1223.11,293.8 1227.05,335.9 1230.99,359.8 1234.92,389.3 1238.86,346.9 1242.80,309.6 1246.74,391.7 1250.67,389.6 1254.61,419.2 1258.55,358.9 1262.49,321.6 1266.42,309.6 1270.36,314.1 1274.30,312.0 1278.24,347.8 1282.17,364.0 1286.11,364.0 1290.05,364.0 1293.99,402.2 1297.92,402.2 1301.86,379.2 1305.80,328.1 1309.74,326.0 1313.67,293.8 1317.61,302.2 1321.55,312.0 1325.49,373.2 1329.42,369.3 1333.36,364.9 1337.30,391.7 1341.24,393.8 1345.17,420.1 1349.11,430.5 1353.05,395.3 1356.99,368.7 1360.92,317.1 1364.86,306.6 1368.80,369.9 1372.74,403.7 1376.67,388.7 1380.61,345.4 1384.55,375.3 1388.49,375.3 1392.42,430.5 1396.36,405.1 1400.30,381.9 1404.24,324.0 1408.17,314.1 1412.11,296.8 1416.05,366.3 1419.99,395.3 1423.92,395.3 1427.86,390.2 1431.80,352.9 1435.74,397.1 1439.67,402.2 1443.61,409.6 1447.55,370.8 1451.49,309.6 1455.42,318.6 1459.36,321.6 1463.30,364.9 1467.24,414.7 1471.17,390.2 1475.11,365.4 1479.05,387.8 1482.99,405.1 1486.92,384.3 1490.86,400.7 1494.80,354.4 1498.74,336.5 1502.67,303.7 1506.61,283.7 1510.55,341.0 1514.49,390.2 1518.42,394.7 1522.36,371.7 1526.30,333.5 1530.24,390.4 1534.17,414.4 1538.11,406.5 1542.05,371.3" fill="none" stroke="#000" stroke-width="3" stroke-linejoin="round"/>
<circle cx="959.30" cy="384.3" r="1.9" fill="#000"/><circle cx="963.24" cy="402.2" r="1.9" fill="#000"/><circle cx="967.17" cy="390.8" r="1.9" fill="#000"/><circle cx="971.11" cy="369.3" r="1.9" fill="#000"/><circle cx="975.05" cy="319.2" r="1.9" fill="#000"/><circle cx="978.99" cy="319.5" r="1.9" fill="#000"/><circle cx="982.92" cy="262.8" r="1.9" fill="#000"/><circle cx="986.86" cy="302.2" r="1.9" fill="#000"/><circle cx="990.80" cy="335.9" r="1.9" fill="#000"/><circle cx="994.74" cy="369.9" r="1.9" fill="#000"/><circle cx="998.67" cy="396.8" r="1.9" fill="#000"/><circle cx="1002.61" cy="382.8" r="1.9" fill="#000"/><circle cx="1006.55" cy="361.9" r="1.9" fill="#000"/><circle cx="1010.49" cy="388.7" r="1.9" fill="#000"/><circle cx="1014.42" cy="366.3" r="1.9" fill="#000"/><circle cx="1018.36" cy="405.7" r="1.9" fill="#000"/><circle cx="1022.30" cy="379.8" r="1.9" fill="#000"/><circle cx="1026.24" cy="320.1" r="1.9" fill="#000"/><circle cx="1030.17" cy="323.1" r="1.9" fill="#000"/><circle cx="1034.11" cy="312.0" r="1.9" fill="#000"/><circle cx="1038.05" cy="332.9" r="1.9" fill="#000"/><circle cx="1041.99" cy="370.8" r="1.9" fill="#000"/><circle cx="1045.92" cy="386.6" r="1.9" fill="#000"/><circle cx="1049.86" cy="365.7" r="1.9" fill="#000"/><circle cx="1053.80" cy="315.6" r="1.9" fill="#000"/><circle cx="1057.74" cy="361.9" r="1.9" fill="#000"/><circle cx="1061.67" cy="379.8" r="1.9" fill="#000"/><circle cx="1065.61" cy="393.2" r="1.9" fill="#000"/><circle cx="1069.55" cy="349.0" r="1.9" fill="#000"/><circle cx="1073.49" cy="299.2" r="1.9" fill="#000"/><circle cx="1077.42" cy="285.7" r="1.9" fill="#000"/><circle cx="1081.36" cy="296.2" r="1.9" fill="#000"/><circle cx="1085.30" cy="332.0" r="1.9" fill="#000"/><circle cx="1089.24" cy="381.3" r="1.9" fill="#000"/><circle cx="1093.17" cy="372.9" r="1.9" fill="#000"/><circle cx="1097.11" cy="378.3" r="1.9" fill="#000"/><circle cx="1101.05" cy="340.1" r="1.9" fill="#000"/><circle cx="1104.99" cy="335.0" r="1.9" fill="#000"/><circle cx="1108.92" cy="369.3" r="1.9" fill="#000"/><circle cx="1112.86" cy="378.3" r="1.9" fill="#000"/><circle cx="1116.80" cy="332.9" r="1.9" fill="#000"/><circle cx="1120.74" cy="299.2" r="1.9" fill="#000"/><circle cx="1124.67" cy="267.2" r="1.9" fill="#000"/><circle cx="1128.61" cy="281.3" r="1.9" fill="#000"/><circle cx="1132.55" cy="332.9" r="1.9" fill="#000"/><circle cx="1136.49" cy="382.8" r="1.9" fill="#000"/><circle cx="1140.42" cy="399.8" r="1.9" fill="#000"/><circle cx="1144.36" cy="387.2" r="1.9" fill="#000"/><circle cx="1148.30" cy="345.4" r="1.9" fill="#000"/><circle cx="1152.24" cy="364.0" r="1.9" fill="#000"/><circle cx="1156.17" cy="380.4" r="1.9" fill="#000"/><circle cx="1160.11" cy="384.3" r="1.9" fill="#000"/><circle cx="1164.05" cy="329.0" r="1.9" fill="#000"/><circle cx="1167.99" cy="273.8" r="1.9" fill="#000"/><circle cx="1171.92" cy="245.4" r="1.9" fill="#000"/><circle cx="1175.86" cy="257.4" r="1.9" fill="#000"/><circle cx="1179.80" cy="321.0" r="1.9" fill="#000"/><circle cx="1183.74" cy="364.9" r="1.9" fill="#000"/><circle cx="1187.67" cy="387.8" r="1.9" fill="#000"/><circle cx="1191.61" cy="358.3" r="1.9" fill="#000"/><circle cx="1195.55" cy="355.9" r="1.9" fill="#000"/><circle cx="1199.49" cy="387.8" r="1.9" fill="#000"/><circle cx="1203.42" cy="374.7" r="1.9" fill="#000"/><circle cx="1207.36" cy="371.4" r="1.9" fill="#000"/><circle cx="1211.30" cy="337.4" r="1.9" fill="#000"/><circle cx="1215.24" cy="323.1" r="1.9" fill="#000"/><circle cx="1219.17" cy="298.3" r="1.9" fill="#000"/><circle cx="1223.11" cy="293.8" r="1.9" fill="#000"/><circle cx="1227.05" cy="335.9" r="1.9" fill="#000"/><circle cx="1230.99" cy="359.8" r="1.9" fill="#000"/><circle cx="1234.92" cy="389.3" r="1.9" fill="#000"/><circle cx="1238.86" cy="346.9" r="1.9" fill="#000"/><circle cx="1242.80" cy="309.6" r="1.9" fill="#000"/><circle cx="1246.74" cy="391.7" r="1.9" fill="#000"/><circle cx="1250.67" cy="389.6" r="1.9" fill="#000"/><circle cx="1254.61" cy="419.2" r="1.9" fill="#000"/><circle cx="1258.55" cy="358.9" r="1.9" fill="#000"/><circle cx="1262.49" cy="321.6" r="1.9" fill="#000"/><circle cx="1266.42" cy="309.6" r="1.9" fill="#000"/><circle cx="1270.36" cy="314.1" r="1.9" fill="#000"/><circle cx="1274.30" cy="312.0" r="1.9" fill="#000"/><circle cx="1278.24" cy="347.8" r="1.9" fill="#000"/><circle cx="1282.17" cy="364.0" r="1.9" fill="#000"/><circle cx="1286.11" cy="364.0" r="1.9" fill="#000"/><circle cx="1290.05" cy="364.0" r="1.9" fill="#000"/><circle cx="1293.99" cy="402.2" r="1.9" fill="#000"/><circle cx="1297.92" cy="402.2" r="1.9" fill="#000"/><circle cx="1301.86" cy="379.2" r="1.9" fill="#000"/><circle cx="1305.80" cy="328.1" r="1.9" fill="#000"/><circle cx="1309.74" cy="326.0" r="1.9" fill="#000"/><circle cx="1313.67" cy="293.8" r="1.9" fill="#000"/><circle cx="1317.61" cy="302.2" r="1.9" fill="#000"/><circle cx="1321.55" cy="312.0" r="1.9" fill="#000"/><circle cx="1325.49" cy="373.2" r="1.9" fill="#000"/><circle cx="1329.42" cy="369.3" r="1.9" fill="#000"/><circle cx="1333.36" cy="364.9" r="1.9" fill="#000"/><circle cx="1337.30" cy="391.7" r="1.9" fill="#000"/><circle cx="1341.24" cy="393.8" r="1.9" fill="#000"/><circle cx="1345.17" cy="420.1" r="1.9" fill="#000"/><circle cx="1349.11" cy="430.5" r="1.9" fill="#000"/><circle cx="1353.05" cy="395.3" r="1.9" fill="#000"/><circle cx="1356.99" cy="368.7" r="1.9" fill="#000"/><circle cx="1360.92" cy="317.1" r="1.9" fill="#000"/><circle cx="1364.86" cy="306.6" r="1.9" fill="#000"/><circle cx="1368.80" cy="369.9" r="1.9" fill="#000"/><circle cx="1372.74" cy="403.7" r="1.9" fill="#000"/><circle cx="1376.67" cy="388.7" r="1.9" fill="#000"/><circle cx="1380.61" cy="345.4" r="1.9" fill="#000"/><circle cx="1384.55" cy="375.3" r="1.9" fill="#000"/><circle cx="1388.49" cy="375.3" r="1.9" fill="#000"/><circle cx="1392.42" cy="430.5" r="1.9" fill="#000"/><circle cx="1396.36" cy="405.1" r="1.9" fill="#000"/><circle cx="1400.30" cy="381.9" r="1.9" fill="#000"/><circle cx="1404.24" cy="324.0" r="1.9" fill="#000"/><circle cx="1408.17" cy="314.1" r="1.9" fill="#000"/><circle cx="1412.11" cy="296.8" r="1.9" fill="#000"/><circle cx="1416.05" cy="366.3" r="1.9" fill="#000"/><circle cx="1419.99" cy="395.3" r="1.9" fill="#000"/><circle cx="1423.92" cy="395.3" r="1.9" fill="#000"/><circle cx="1427.86" cy="390.2" r="1.9" fill="#000"/><circle cx="1431.80" cy="352.9" r="1.9" fill="#000"/><circle cx="1435.74" cy="397.1" r="1.9" fill="#000"/><circle cx="1439.67" cy="402.2" r="1.9" fill="#000"/><circle cx="1443.61" cy="409.6" r="1.9" fill="#000"/><circle cx="1447.55" cy="370.8" r="1.9" fill="#000"/><circle cx="1451.49" cy="309.6" r="1.9" fill="#000"/><circle cx="1455.42" cy="318.6" r="1.9" fill="#000"/><circle cx="1459.36" cy="321.6" r="1.9" fill="#000"/><circle cx="1463.30" cy="364.9" r="1.9" fill="#000"/><circle cx="1467.24" cy="414.7" r="1.9" fill="#000"/><circle cx="1471.17" cy="390.2" r="1.9" fill="#000"/><circle cx="1475.11" cy="365.4" r="1.9" fill="#000"/><circle cx="1479.05" cy="387.8" r="1.9" fill="#000"/><circle cx="1482.99" cy="405.1" r="1.9" fill="#000"/><circle cx="1486.92" cy="384.3" r="1.9" fill="#000"/><circle cx="1490.86" cy="400.7" r="1.9" fill="#000"/><circle cx="1494.80" cy="354.4" r="1.9" fill="#000"/><circle cx="1498.74" cy="336.5" r="1.9" fill="#000"/><circle cx="1502.67" cy="303.7" r="1.9" fill="#000"/><circle cx="1506.61" cy="283.7" r="1.9" fill="#000"/><circle cx="1510.55" cy="341.0" r="1.9" fill="#000"/><circle cx="1514.49" cy="390.2" r="1.9" fill="#000"/><circle cx="1518.42" cy="394.7" r="1.9" fill="#000"/><circle cx="1522.36" cy="371.7" r="1.9" fill="#000"/><circle cx="1526.30" cy="333.5" r="1.9" fill="#000"/><circle cx="1530.24" cy="390.4" r="1.9" fill="#000"/><circle cx="1534.17" cy="414.4" r="1.9" fill="#000"/><circle cx="1538.11" cy="406.5" r="1.9" fill="#000"/><circle cx="1542.05" cy="371.3" r="1.9" fill="#000"/>
<rect x="1537.5" y="367" width="8" height="8" fill="none" stroke="#FFFF00" stroke-width="1.5"/>
<polyline points="1542.6,367.4 1551,344.4 1556.2,344.4" fill="none" stroke="#FFFF00" stroke-width="1"/>
<polyline points="1542.6,372.6 1555.6,393.5 1561.4,393.5" fill="none" stroke="#000" stroke-width="1"/>
<text textLength="59.42" lengthAdjust="spacing" x="1561" y="355" style="font-size:24.44px;fill:#FFFF00;stroke:#FFFF00;stroke-width:0.6px;paint-order:stroke">6,298</text>
<text textLength="59.42" lengthAdjust="spacing" x="1566" y="405" style="font-size:24.44px;fill:#000;stroke:#000;stroke-width:0.6px;paint-order:stroke">6,288</text>
</svg>
</body></html>
